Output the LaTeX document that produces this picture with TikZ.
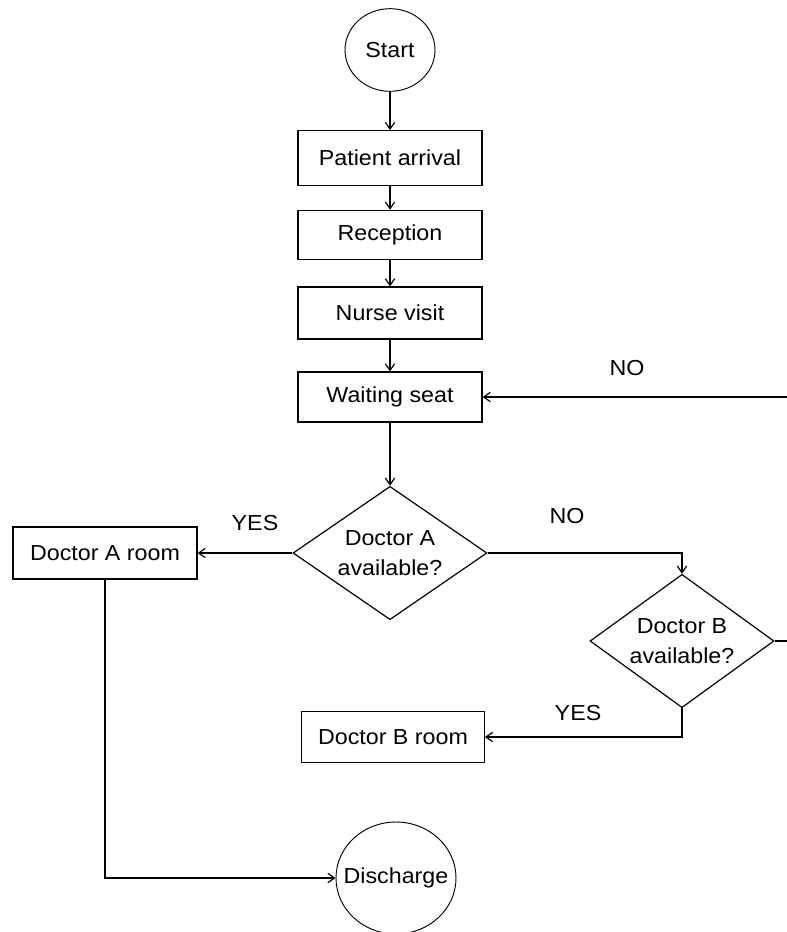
\documentclass[tikz,border=0pt]{standalone}
\usepackage{fontspec}
\setmainfont[FakeStretch=1.07]{Liberation Sans}
\usetikzlibrary{shapes.geometric,arrows.meta,positioning}

\newcommand{\flowfont}{\fontsize{16.3}{22}\selectfont}

\tikzset{
  stepbox/.style={draw, line width=0.9pt, minimum width=138pt, minimum height=38pt,
    inner sep=0pt, font=\flowfont},
  terminal/.style={draw, ellipse, line width=0.7pt, inner sep=0pt, font=\flowfont},
  decision/.style={draw, diamond, line width=0.9pt, inner sep=0pt, align=center,
    font=\flowfont},
  flow/.style={->, line width=0.9pt},
  answer/.style={font=\flowfont}
}

\begin{document}
\begin{tikzpicture}[x=0.75pt, y=-0.75pt, >={Straight Barb[length=5pt,width=7pt]}]
  \clip (0,0) rectangle (787,932);
  % main column
  \node[terminal, minimum width=67.5pt, minimum height=62pt] (start) at (390,50) {Start};
  \node[stepbox, minimum height=41pt] (arrival) at (390,158) {Patient arrival};
  \node[stepbox, minimum height=37pt] (reception) at (390,235) {Reception};
  \node[stepbox, minimum height=39pt] (nurse) at (390,313) {Nurse visit};
  \node[stepbox, minimum height=37.5pt] (waiting) at (390,397) {Waiting seat};
  \node[decision, aspect=1.46, minimum width=145.5pt, minimum height=100pt]
    (docA) at (390,553) {Doctor A\\available?};
  % branches
  \node[stepbox, minimum height=39pt] (roomA) at (105,553) {Doctor A room};
  \node[decision, aspect=1.38, minimum width=138pt, minimum height=100pt]
    (docB) at (682,641) {Doctor B\\available?};
  \node[stepbox, minimum width=137pt, minimum height=38pt] (roomB) at (393,737) {Doctor B room};
  \node[terminal, inner xsep=-9pt, minimum width=90pt, minimum height=84pt]
    (discharge) at (396,878) {Discharge};
  \coordinate (corner) at (800,641);

  \draw[flow] (start) -- (arrival);
  \draw[flow] (arrival) -- (reception);
  \draw[flow] (reception) -- (nurse);
  \draw[flow] (nurse) -- (waiting);
  \draw[flow] (waiting) -- (docA);
  \draw[flow] (docA.west) -- (roomA.east);
  \draw[flow] (docA.east) -| (docB.north);
  \draw[flow] (docB.south) |- (roomB.east);
  \draw[flow] (docB.east) -- (corner) |- (waiting.east);
  \draw[flow] (roomA.south) |- (discharge.west);

  % answers
  \node[answer] (noWait) at (627,368) {NO};
  \node[answer] (noA) at (567,516) {NO};
  \node[answer] (yesA) at (255,523) {YES};
  \node[answer] (yesB) at (578,713) {YES};
\end{tikzpicture}
\end{document}
